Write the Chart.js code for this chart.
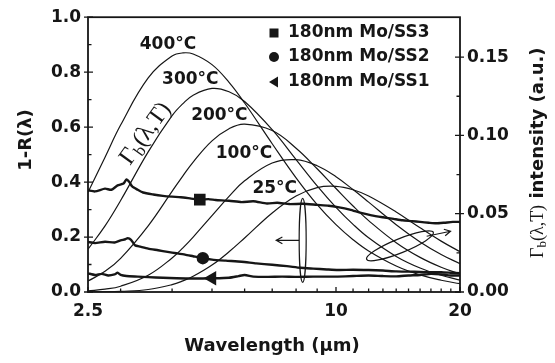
<!DOCTYPE html>
<html>
<head>
<meta charset="utf-8">
<script src="https://cdn.jsdelivr.net/npm/chart.js@4.4.0/dist/chart.umd.min.js"></script>
<style>
  html, body { margin: 0; padding: 0; background: #fff; }
  #wrap { width: 555px; height: 363px; }
</style>
</head>
<body>
<div id="wrap"><canvas id="c" width="555" height="363"></canvas></div>
<script>
// blackbody curves (a.u.)
const bbLam = [2.5, 2.75, 3, 3.5, 4, 4.25, 4.5, 5, 5.5, 6, 7, 8, 9, 10, 11, 12, 14, 16, 18, 20];
const bb400 = [0.0637, 0.0861, 0.1066, 0.1367, 0.1507, 0.1527, 0.1520, 0.1452, 0.1339, 0.1207, 0.0947, 0.0729, 0.0558, 0.0430, 0.0334, 0.0262, 0.0166, 0.0109, 0.0075, 0.0053];
const bb300 = [0.0273, 0.0422, 0.0584, 0.0895, 0.1126, 0.1203, 0.1257, 0.1300, 0.1279, 0.1217, 0.1037, 0.0846, 0.0678, 0.0541, 0.0432, 0.0346, 0.0227, 0.0153, 0.0107, 0.0076];
const bb200 = [0.0070, 0.0132, 0.0215, 0.0423, 0.0643, 0.0742, 0.0830, 0.0965, 0.1043, 0.1072, 0.1031, 0.0918, 0.0787, 0.0661, 0.0549, 0.0456, 0.0315, 0.0221, 0.0158, 0.0115];
const bb100 = [0.0007, 0.0018, 0.0037, 0.0107, 0.0217, 0.0282, 0.0351, 0.0488, 0.0611, 0.0710, 0.0824, 0.0845, 0.0806, 0.0736, 0.0654, 0.0574, 0.0430, 0.0320, 0.0240, 0.0181];
const bb25  = [0.0000, 0.0001, 0.0004, 0.0016, 0.0047, 0.0071, 0.0100, 0.0172, 0.0257, 0.0345, 0.0505, 0.0613, 0.0667, 0.0675, 0.0653, 0.0613, 0.0511, 0.0410, 0.0325, 0.0257];

// measured 1-R(λ), left axis
const ss3Lam = [2.5, 2.6, 2.75, 2.85, 2.95, 3.05, 3.1, 3.15, 3.2, 3.3, 3.4, 3.6, 3.8, 4.0, 4.2, 4.45, 4.67, 4.9, 5.1, 5.5, 5.9, 6.3, 6.8, 7.2, 7.7, 8.3, 9.0, 9.6, 10.1, 10.8, 11.5, 12.2, 13.0, 13.8, 14.5, 15.3, 16.0, 16.8, 17.5, 18.3, 19.2, 20];
const ss3Val = [0.370, 0.366, 0.376, 0.372, 0.388, 0.395, 0.410, 0.400, 0.384, 0.372, 0.362, 0.355, 0.350, 0.347, 0.345, 0.340, 0.336, 0.338, 0.335, 0.332, 0.327, 0.330, 0.322, 0.325, 0.320, 0.321, 0.317, 0.314, 0.309, 0.300, 0.288, 0.279, 0.272, 0.266, 0.261, 0.258, 0.255, 0.252, 0.250, 0.252, 0.255, 0.255];
const ss2Lam = [2.5, 2.6, 2.75, 2.9, 3.0, 3.08, 3.12, 3.18, 3.25, 3.35, 3.5, 3.7, 3.9, 4.1, 4.3, 4.5, 4.75, 5.0, 5.4, 5.9, 6.4, 7.0, 7.6, 8.2, 8.8, 9.5, 10.1, 11, 12, 13, 14, 15, 16, 17, 18, 19, 20];
const ss2Val = [0.182, 0.178, 0.183, 0.180, 0.188, 0.192, 0.196, 0.190, 0.170, 0.165, 0.158, 0.152, 0.146, 0.141, 0.136, 0.130, 0.123, 0.118, 0.114, 0.110, 0.104, 0.099, 0.094, 0.088, 0.085, 0.082, 0.080, 0.081, 0.080, 0.078, 0.075, 0.074, 0.073, 0.072, 0.072, 0.070, 0.068];
const ss1Lam = [2.5, 2.6, 2.7, 2.8, 2.9, 2.95, 3.0, 3.1, 3.3, 3.5, 3.8, 4.1, 4.5, 5.0, 5.5, 5.8, 6.0, 6.3, 6.8, 7.4, 8.0, 8.8, 9.5, 10.1, 11, 12, 13, 14, 15, 16, 17, 18, 19, 20];
const ss1Val = [0.068, 0.062, 0.066, 0.060, 0.064, 0.070, 0.062, 0.058, 0.056, 0.054, 0.052, 0.050, 0.049, 0.050, 0.052, 0.058, 0.062, 0.056, 0.055, 0.056, 0.055, 0.056, 0.056, 0.056, 0.058, 0.060, 0.058, 0.057, 0.060, 0.062, 0.066, 0.064, 0.060, 0.060];
const markerLam = { ss3: 4.67, ss2: 4.75, ss1: 5.0 };

const xTickVals = [2.5, 3, 4, 5, 6, 7, 8, 9, 10, 11, 12, 13, 14, 15, 16, 17, 18, 19, 20];
const xTickLabels = [2.5, 10, 20];
const leftTickVals = [0, 0.1, 0.2, 0.3, 0.4, 0.5, 0.6, 0.7, 0.8, 0.9, 1.0];
const rightTickVals = [0, 0.025, 0.05, 0.075, 0.1, 0.125, 0.15];

const legendNames = ['180nm Mo/SS3', '180nm Mo/SS2', '180nm Mo/SS1'];
const tempNames = ['400°C', '300°C', '200°C', '100°C', '25°C'];
// where the temperature labels sit (λ, left-axis value)
const tempPos = [[3.91, 0.902], [4.43, 0.772], [5.21, 0.641], [5.98, 0.504], [7.10, 0.377]];

const FONT = '"DejaVu Sans", sans-serif';
const SERIF = '"Liberation Serif", "DejaVu Serif", serif';
const INK = '#161616';

const pts = (xs, ys) => xs.map((x, i) => ({ x: x, y: ys[i] }));

function bbSet(vals) {
  return {
    data: pts(bbLam, vals), yAxisID: 'yR', borderColor: INK, borderWidth: 1.2,
    pointRadius: 0, tension: 0.4, fill: false
  };
}
function measSet(lams, vals, mark, style, r, rot) {
  return {
    data: pts(lams, vals), yAxisID: 'yL', borderColor: INK, borderWidth: 2.4,
    backgroundColor: INK, pointBorderColor: INK, pointBackgroundColor: INK,
    pointStyle: style, pointRotation: rot || 0,
    pointRadius: ctx => (lams[ctx.dataIndex] === mark ? r : 0),
    tension: 0.2, fill: false
  };
}

// Γb(λ,T) written left to right from (x, y) baseline, returns the end x
function gammaText(ctx, x, y, size) {
  ctx.textAlign = 'left';
  ctx.textBaseline = 'alphabetic';
  ctx.font = size + 'px ' + SERIF;
  ctx.fillText('Γ', x, y);
  x += ctx.measureText('Γ').width;
  ctx.font = Math.round(size * 0.7) + 'px ' + SERIF;
  ctx.fillText('b', x, y + size * 0.18);
  x += ctx.measureText('b').width;
  ctx.font = size + 'px ' + SERIF;
  ctx.fillText('(λ,T)', x, y);
  return x + ctx.measureText('(λ,T)').width;
}

function arrow(ctx, x1, y1, x2, y2, head) {
  ctx.beginPath();
  ctx.moveTo(x1, y1);
  ctx.lineTo(x2, y2);
  const a = Math.atan2(y2 - y1, x2 - x1);
  ctx.moveTo(x2 - head * Math.cos(a - 0.5), y2 - head * Math.sin(a - 0.5));
  ctx.lineTo(x2, y2);
  ctx.lineTo(x2 - head * Math.cos(a + 0.5), y2 - head * Math.sin(a + 0.5));
  ctx.stroke();
}

const decor = {
  id: 'decor',
  afterDraw(chart) {
    const ctx = chart.ctx;
    const a = chart.chartArea;
    const sx = chart.scales.x, yl = chart.scales.yL, yr = chart.scales.yR;
    ctx.save();
    ctx.strokeStyle = INK;
    ctx.fillStyle = INK;

    // frame
    ctx.lineWidth = 1.8;
    ctx.strokeRect(a.left, a.top, a.right - a.left, a.bottom - a.top);

    // tick marks, pointing inward
    ctx.lineWidth = 1.3;
    ctx.beginPath();
    xTickVals.forEach(v => {
      const px = sx.getPixelForValue(v);
      const len = xTickLabels.includes(v) ? 5 : 3.5;
      ctx.moveTo(px, a.bottom); ctx.lineTo(px, a.bottom - len);
    });
    leftTickVals.forEach((v, i) => {
      const py = yl.getPixelForValue(v);
      const len = i % 2 === 0 ? 5 : 3.5;
      ctx.moveTo(a.left - (i % 2 === 0 ? 4 : 0), py); ctx.lineTo(a.left + len, py);
    });
    rightTickVals.forEach((v, i) => {
      const py = yr.getPixelForValue(v);
      const len = i % 2 === 0 ? 5 : 3.5;
      ctx.moveTo(a.right + (i % 2 === 0 ? 4 : 0), py); ctx.lineTo(a.right - len, py);
    });
    ctx.stroke();

    // axis titles
    ctx.font = 'bold 18px ' + FONT;
    ctx.textAlign = 'center';
    ctx.textBaseline = 'middle';
    ctx.fillText('Wavelength (\u00b5m)', (a.left + a.right) / 2 - 2, 346);

    ctx.save();
    ctx.translate(26, 140);
    ctx.rotate(-Math.PI / 2);
    ctx.fillText('1-R(λ)', 0, 0);
    ctx.restore();

    ctx.save();
    ctx.translate(543, 258);
    ctx.rotate(-Math.PI / 2);
    let ex = gammaText(ctx, 0, 0, 18);
    ctx.font = 'bold 18px ' + FONT;
    ctx.textAlign = 'left';
    ctx.fillText(' intensity (a.u.)', ex, 0);
    ctx.restore();

    // legend
    const lx = 274, ly = [33, 57, 82];
    ctx.fillRect(lx - 4.5, ly[0] - 4.5, 9, 9);
    ctx.beginPath(); ctx.arc(lx, ly[1], 5, 0, Math.PI * 2); ctx.fill();
    ctx.beginPath();
    ctx.moveTo(lx - 5, ly[2]); ctx.lineTo(lx + 4, ly[2] - 5.5); ctx.lineTo(lx + 4, ly[2] + 5.5);
    ctx.closePath(); ctx.fill();
    ctx.font = 'bold 17px ' + FONT;
    ctx.textAlign = 'left';
    ctx.textBaseline = 'middle';
    legendNames.forEach((t, i) => ctx.fillText(t, 288, ly[i]));

    // temperature labels
    ctx.textAlign = 'center';
    tempNames.forEach((t, i) => {
      ctx.fillText(t, sx.getPixelForValue(tempPos[i][0]), yl.getPixelForValue(tempPos[i][1]));
    });

    // rotated Γb(λ,T) next to the curves
    ctx.save();
    ctx.translate(sx.getPixelForValue(3.41), yl.getPixelForValue(0.576));
    ctx.rotate(-54 * Math.PI / 180);
    gammaText(ctx, -34, 8, 24);
    ctx.restore();

    // ellipse + arrow pointing to the left axis
    ctx.lineWidth = 1.2;
    const e1x = sx.getPixelForValue(8.3), e1y = yl.getPixelForValue(0.188);
    ctx.beginPath();
    ctx.ellipse(e1x, e1y, 3.5, 42, 0, 0, Math.PI * 2);
    ctx.stroke();
    arrow(ctx, e1x - 3.5, yl.getPixelForValue(0.188), sx.getPixelForValue(7.16), yl.getPixelForValue(0.188), 7);

    // tilted ellipse + arrow pointing to the right axis
    const e2x = sx.getPixelForValue(14.3), e2y = yl.getPixelForValue(0.168);
    ctx.beginPath();
    ctx.ellipse(e2x, e2y, 36, 7, -22 * Math.PI / 180, 0, Math.PI * 2);
    ctx.stroke();
    arrow(ctx, sx.getPixelForValue(16.6), yl.getPixelForValue(0.203), sx.getPixelForValue(18.97), yl.getPixelForValue(0.221), 7);

    ctx.restore();
  }
};

new Chart(document.getElementById('c'), {
  type: 'line',
  data: {
    datasets: [
      bbSet(bb400), bbSet(bb300), bbSet(bb200), bbSet(bb100), bbSet(bb25),
      measSet(ss3Lam, ss3Val, markerLam.ss3, 'rect', 6.5, 0),
      measSet(ss2Lam, ss2Val, markerLam.ss2, 'circle', 5, 0),
      measSet(ss1Lam, ss1Val, markerLam.ss1, 'triangle', 6, -90)
    ]
  },
  options: {
    responsive: false,
    animation: false,
    events: [],
    layout: { padding: { top: 16, left: 0, right: 0, bottom: 0 } },
    plugins: { legend: { display: false }, tooltip: { enabled: false } },
    scales: {
      x: {
        type: 'logarithmic', min: 2.5, max: 20,
        afterBuildTicks: s => { s.ticks = xTickVals.map(v => ({ value: v })); },
        afterFit: s => { s.height = 71; },
        grid: { display: false, drawTicks: false },
        border: { display: false },
        ticks: {
          autoSkip: false, maxRotation: 0, minRotation: 0, padding: 9,
          color: INK, font: { family: FONT, size: 17, weight: 'bold' },
          callback: v => (xTickLabels.includes(v) ? String(v) : '')
        }
      },
      yL: {
        type: 'linear', position: 'left', min: 0, max: 1,
        afterBuildTicks: s => { s.ticks = leftTickVals.map(v => ({ value: v })); },
        afterFit: s => { s.width = 88; },
        grid: { display: false, drawTicks: false },
        border: { display: false },
        ticks: {
          padding: 7, color: INK, font: { family: FONT, size: 17, weight: 'bold' },
          callback: (v, i) => (i % 2 === 0 ? v.toFixed(1) : '')
        }
      },
      yR: {
        type: 'linear', position: 'right', min: 0, max: 0.1755,
        afterBuildTicks: s => { s.ticks = rightTickVals.map(v => ({ value: v })); },
        afterFit: s => { s.width = 95; },
        grid: { display: false, drawTicks: false },
        border: { display: false },
        ticks: {
          padding: 7, color: INK, font: { family: FONT, size: 17, weight: 'bold' },
          callback: (v, i) => (i % 2 === 0 ? v.toFixed(2) : '')
        }
      }
    }
  },
  plugins: [decor]
});
</script>
</body>
</html>
